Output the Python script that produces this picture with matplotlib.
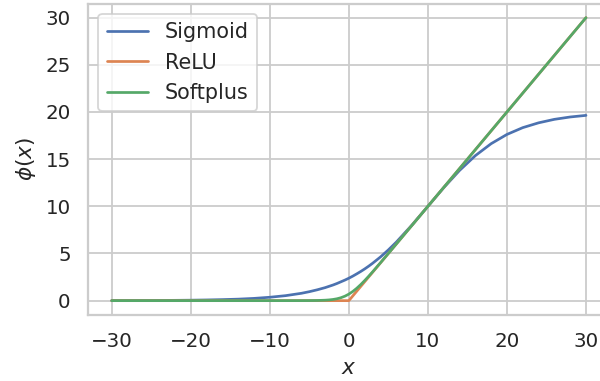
import matplotlib
matplotlib.use("Agg")
import matplotlib.pyplot as plt
import seaborn as sns

x_vals = [-30, -28, -26, -24, -22, -20, -18, -16, -14, -12, -10, -8, -6, -5, -4, -3,
          -2.5, -2, -1.5, -1, -0.5, 0, 0.5, 1, 1.5, 2, 2.5, 3, 4, 5, 6,
          8, 10, 12, 14, 16, 18, 20, 22, 24, 26, 28, 30]

sigmoid_vals = [0.007, 0.010, 0.015, 0.022, 0.033, 0.049, 0.074, 0.11, 0.16, 0.24, 0.36, 0.53,
                0.78, 0.95, 1.15, 1.38, 1.52, 1.66, 1.82, 2.00, 2.18, 2.38, 2.60, 2.84, 3.09,
                3.36, 3.65, 3.96, 4.63, 5.38, 6.20,
                8.03, 10.0, 11.97, 13.80, 15.37, 16.64, 17.62, 18.34, 18.85, 19.22, 19.47, 19.64]

relu_vals = [0, 0, 0, 0, 0, 0, 0, 0, 0, 0, 0, 0, 0, 0, 0, 0,
             0, 0, 0, 0, 0, 0, 0.5, 1, 1.5, 2, 2.5, 3, 4, 5, 6,
             8, 10, 12, 14, 16, 18, 20, 22, 24, 26, 28, 30]

softplus_vals = [0, 0, 0, 0, 0, 0, 0, 0, 0, 0, 0.0, 0.0003, 0.0025, 0.0067, 0.018, 0.049,
                 0.079, 0.127, 0.201, 0.313, 0.474, 0.693, 0.974, 1.313, 1.701, 2.127, 2.579,
                 3.049, 4.018, 5.007, 6.0025,
                 8, 10, 12, 14, 16, 18, 20, 22, 24, 26, 28, 30]

series_labels = ["Sigmoid", "ReLU", "Softplus"]
x_ticks = [-30, -20, -10, 0, 10, 20, 30]
y_ticks = [0, 5, 10, 15, 20, 25, 30]

sns.set_theme(style="whitegrid")
colors = sns.color_palette("deep")

dpi = 130
fig = plt.figure(figsize=(600 / dpi, 381 / dpi), dpi=dpi)
ax = fig.add_axes([88 / 600, 1 - 314.8 / 381, 521.7 / 600, 311.3 / 381])

for ys, lab, c in zip([sigmoid_vals, relu_vals, softplus_vals], series_labels, colors):
    ax.plot(x_vals, ys, label=lab, color=c)

ax.set_xticks(x_ticks)
ax.set_yticks(y_ticks)
ax.set_xlabel("$x$")
ax.set_ylabel(r"$\phi(x)$")
ax.legend(loc="upper left", fontsize=11.5)

fig.savefig("out.png", dpi=dpi)
